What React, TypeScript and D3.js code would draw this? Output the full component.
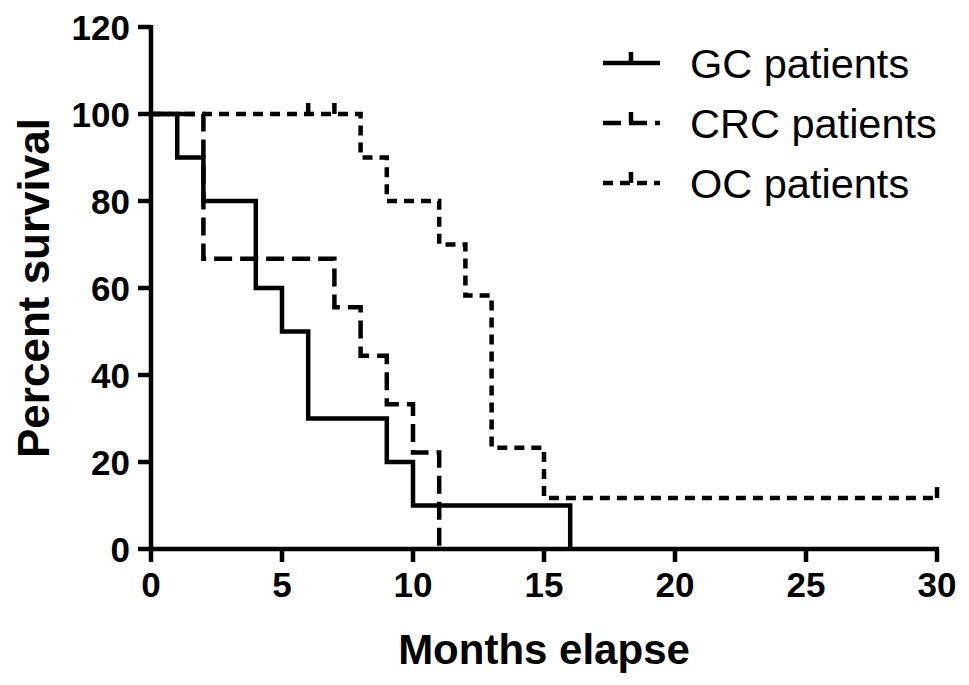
import { scaleLinear, line, curveStepAfter } from 'd3'

const GC_TIMES = [0, 1, 2, 4, 5, 6, 9, 10, 16]
const GC_SURV = [100, 90, 80, 60, 50, 30, 20, 10, 0]

const CRC_TIMES = [0, 2, 7, 8, 9, 10, 11]
const CRC_SURV = [100, 66.7, 55.6, 44.4, 33.3, 22.2, 0]

const OC_TIMES = [0, 8, 9, 11, 12, 13, 15, 30]
const OC_SURV = [100, 90, 80, 70, 58.3, 23.3, 11.7, 11.7]
const OC_CENSOR_TIMES = [6, 7, 30]
const OC_CENSOR_SURV = [100, 100, 11.7]

const X_TICKS = [0, 5, 10, 15, 20, 25, 30]
const Y_TICKS = [0, 20, 40, 60, 80, 100, 120]

const SERIES = [
  { name: 'GC patients', times: GC_TIMES, surv: GC_SURV, dash: 'none' },
  { name: 'CRC patients', times: CRC_TIMES, surv: CRC_SURV, dash: '18,8' },
  { name: 'OC patients', times: OC_TIMES, surv: OC_SURV, dash: '10,7' },
]

export default function App(): JSX.Element {
  const width = 969
  const height = 685
  const margin = { top: 27, right: 32, bottom: 136, left: 151 }
  const innerWidth = width - margin.left - margin.right
  const innerHeight = height - margin.top - margin.bottom
  const font = "'Liberation Sans', Arial, sans-serif"
  const sw = 4.5
  const tickLen = 13
  const censorLen = 11

  const xScale = scaleLinear().domain([0, 30]).range([0, innerWidth])
  const yScale = scaleLinear().domain([0, 120]).range([innerHeight, 0])

  const stepLine = line<[number, number]>()
    .x((d) => xScale(d[0]))
    .y((d) => yScale(d[1]))
    .curve(curveStepAfter)

  return (
    <div style={{ position: 'absolute', left: 0, top: 0 }}>
      <svg width={width} height={height} style={{ display: 'block', background: '#fff' }}>
        <g transform={`translate(${margin.left}, ${margin.top})`}>
          {/* Curves */}
          {SERIES.map((s, i) => (
            <path
              key={i}
              d={stepLine(s.times.map((t, j) => [t, s.surv[j]]))!}
              fill='none'
              stroke='#000'
              strokeWidth={sw}
              strokeDasharray={s.dash}
              strokeLinejoin='miter'
            />
          ))}

          {/* Censor marks */}
          {OC_CENSOR_TIMES.map((t, i) => (
            <line
              key={i}
              x1={xScale(t)}
              x2={xScale(t)}
              y1={yScale(OC_CENSOR_SURV[i])}
              y2={yScale(OC_CENSOR_SURV[i]) - censorLen}
              stroke='#000'
              strokeWidth={sw}
            />
          ))}

          {/* Y Axis */}
          <line y1={-2} y2={innerHeight + 2} stroke='#000' strokeWidth={sw} />
          {Y_TICKS.map((v) => (
            <g key={v} transform={`translate(0, ${yScale(v)})`}>
              <line x2={-tickLen} stroke='#000' strokeWidth={sw} />
              <text
                x={-tickLen - 8}
                dy='0.36em'
                textAnchor='end'
                fontFamily={font}
                fontWeight='bold'
                fontSize={35}
              >
                {v}
              </text>
            </g>
          ))}

          {/* X Axis */}
          <line x1={-2} x2={innerWidth + 2} y1={innerHeight} y2={innerHeight} stroke='#000' strokeWidth={sw} />
          {X_TICKS.map((v) => (
            <g key={v} transform={`translate(${xScale(v)}, ${innerHeight})`}>
              <line y2={tickLen} stroke='#000' strokeWidth={sw} />
              <text
                y={48}
                textAnchor='middle'
                fontFamily={font}
                fontWeight='bold'
                fontSize={35}
              >
                {v}
              </text>
            </g>
          ))}

          {/* Axis labels */}
          <text
            x={innerWidth / 2}
            y={innerHeight + 115}
            textAnchor='middle'
            fontFamily={font}
            fontWeight='bold'
            fontSize={42}
          >
            Months elapse
          </text>
          <text
            transform={`translate(${-102}, ${innerHeight / 2}) rotate(-90)`}
            textAnchor='middle'
            fontFamily={font}
            fontWeight='bold'
            fontSize={44}
          >
            Percent survival
          </text>
        </g>

        {/* Legend */}
        <g transform='translate(603, 63)'>
          {SERIES.map((s, i) => (
            <g key={i} transform={`translate(0, ${i * 60})`}>
              <line x2={57} stroke='#000' strokeWidth={sw} strokeDasharray={s.dash} />
              <line x1={28} x2={28} y2={-censorLen} stroke='#000' strokeWidth={sw} />
              <text
                x={87}
                dy='0.36em'
                fontFamily={font}
                fontSize={41.5}
              >
                {s.name}
              </text>
            </g>
          ))}
        </g>
      </svg>
    </div>
  )
}
